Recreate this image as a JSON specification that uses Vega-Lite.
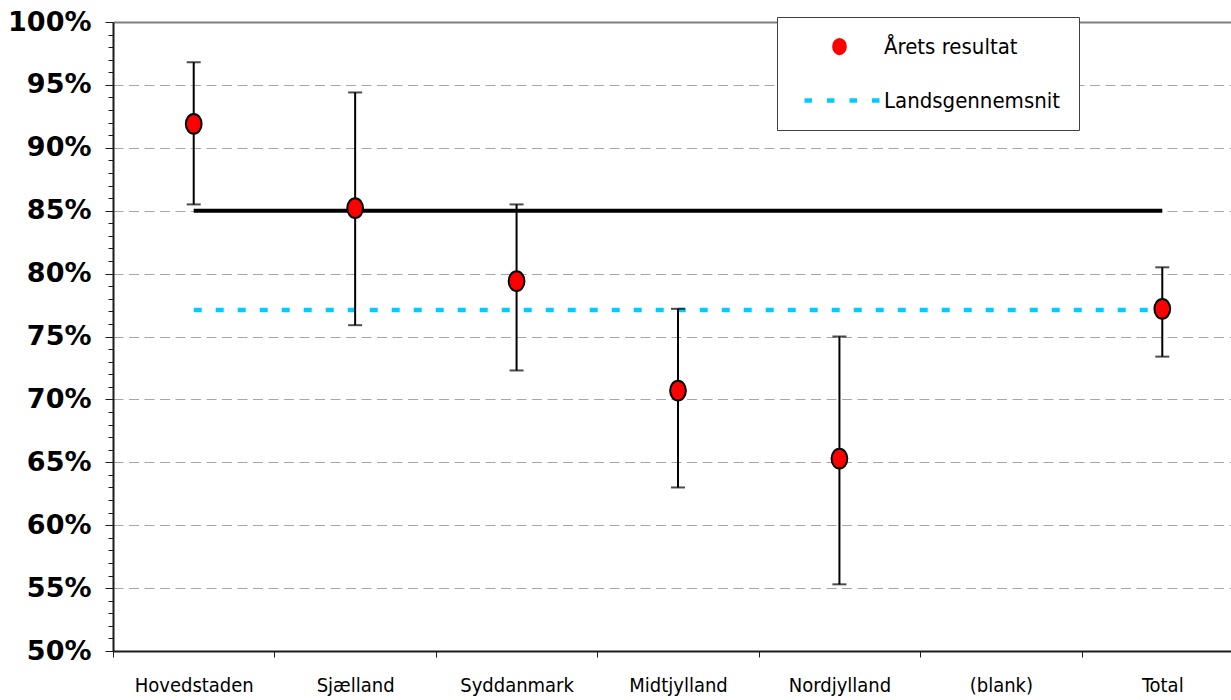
{
  "$schema": "https://vega.github.io/schema/vega-lite/v6.json",
  "width": 1118,
  "height": 629,
  "autosize": "none",
  "padding": {"left": 113, "top": 22, "right": 0, "bottom": 49},
  "background": "white",
  "view": {"stroke": null},
  "datasets": {
    "resultat": [
      {"region": "Hovedstaden", "serie": "Årets resultat", "andel": 91.9, "nedre": 85.5, "oevre": 96.8},
      {"region": "Sjælland", "serie": "Årets resultat", "andel": 85.2, "nedre": 75.9, "oevre": 94.4},
      {"region": "Syddanmark", "serie": "Årets resultat", "andel": 79.4, "nedre": 72.3, "oevre": 85.5},
      {"region": "Midtjylland", "serie": "Årets resultat", "andel": 70.7, "nedre": 63.0, "oevre": 77.2},
      {"region": "Nordjylland", "serie": "Årets resultat", "andel": 65.3, "nedre": 55.3, "oevre": 75.0},
      {"region": "Total", "serie": "Årets resultat", "andel": 77.2, "nedre": 73.4, "oevre": 80.5}
    ],
    "standard": [
      {"region": "Hovedstaden", "andel": 85},
      {"region": "Total", "andel": 85}
    ],
    "gennemsnit": [
      {"region": "Hovedstaden", "serie": "Landsgennemsnit", "andel": 77.1},
      {"region": "Total", "serie": "Landsgennemsnit", "andel": 77.1}
    ]
  },
  "encoding": {
    "x": {
      "field": "region",
      "type": "nominal",
      "sort": ["Hovedstaden", "Sjælland", "Syddanmark", "Midtjylland", "Nordjylland", "(blank)", "Total"],
      "scale": {
        "domain": ["Hovedstaden", "Sjælland", "Syddanmark", "Midtjylland", "Nordjylland", "(blank)", "Total"],
        "range": [0, 1130],
        "paddingInner": 0,
        "paddingOuter": 0
      },
      "axis": {
        "title": null,
        "labelAngle": 0,
        "tickBand": "extent",
        "domainColor": "#1a1a1a",
        "domainWidth": 2,
        "tickColor": "#1a1a1a",
        "tickWidth": 1,
        "tickSize": 6,
        "labelFont": "Liberation Sans Narrow, DejaVu Sans Condensed, sans-serif",
        "labelFontSize": 20,
        "labelColor": "black",
        "labelPadding": 18,
        "grid": false
      }
    },
    "y": {
      "type": "quantitative",
      "scale": {"domain": [50, 100], "nice": false, "zero": false},
      "axis": {
        "title": null,
        "values": [50, 51, 52, 53, 54, 55, 56, 57, 58, 59, 60, 61, 62, 63, 64, 65, 66, 67, 68, 69, 70, 71, 72, 73, 74, 75, 76, 77, 78, 79, 80, 81, 82, 83, 84, 85, 86, 87, 88, 89, 90, 91, 92, 93, 94, 95, 96, 97, 98, 99, 100],
        "labelExpr": "datum.value % 5 === 0 ? datum.value + '%' : ''",
        "labelOverlap": false,
        "labelFont": "DejaVu Sans",
        "labelFontWeight": "bold",
        "labelFontSize": 27,
        "labelColor": "black",
        "labelPadding": 14,
        "domainColor": "#1a1a1a",
        "domainWidth": 2,
        "tickColor": "#1a1a1a",
        "tickWidth": 1,
        "tickSize": {"condition": {"test": "datum.value % 5 === 0", "value": 8}, "value": 5},
        "grid": true,
        "gridColor": {"condition": {"test": "datum.value === 100", "value": "#808080"}, "value": "#a6a6a6"},
        "gridDash": {"condition": {"test": "datum.value === 100", "value": []}, "value": [10, 5.5]},
        "gridWidth": {"condition": {"test": "datum.value === 100", "value": 2}, "value": 1},
        "gridOpacity": {"condition": {"test": "datum.value % 5 === 0 && datum.value > 50", "value": 1}, "value": 0}
      }
    }
  },
  "layer": [
    {
      "data": {"name": "standard"},
      "mark": {"type": "line", "stroke": "black", "strokeWidth": 4},
      "encoding": {"y": {"field": "andel"}}
    },
    {
      "data": {"name": "gennemsnit"},
      "mark": {"type": "line", "strokeWidth": 4.5, "strokeDash": [8, 14]},
      "encoding": {
        "y": {"field": "andel"},
        "color": {
          "field": "serie",
          "type": "nominal",
          "scale": {"domain": ["Årets resultat", "Landsgennemsnit"], "range": ["#ff0000", "#00ccff"]},
          "legend": {
            "title": null,
            "orient": "none",
            "legendX": 664,
            "legendY": -5,
            "padding": 18.5,
            "rowPadding": 32,
            "symbolSize": 441,
            "labelOffset": 66.5,
            "labelLimit": 400,
            "labelFont": "Liberation Sans Narrow, DejaVu Sans Condensed, sans-serif",
            "labelFontSize": 22,
            "labelColor": "black",
            "strokeColor": "#404040",
            "fillColor": "white",
            "encode": {
              "symbols": {
                "update": {
                  "shape": {"signal": "datum.value === 'Årets resultat' ? 'M 2.513 0 A 0.63 0.75 0 1 0 3.773 0 A 0.63 0.75 0 1 0 2.513 0 Z' : 'M -0.19 0 H 0.524 M 1.952 0 H 2.666 M 4.095 0 H 4.809 M 6.238 0 H 6.952'"},
                  "fill": {"signal": "datum.value === 'Årets resultat' ? '#ff0000' : 'transparent'"},
                  "stroke": {"signal": "datum.value === 'Årets resultat' ? 'black' : '#00ccff'"},
                  "strokeWidth": {"signal": "datum.value === 'Årets resultat' ? 1.5 : 4.5"},
                  "strokeDash": {"value": []},
                  "opacity": {"value": 1}
                }
              }
            }
          }
        }
      }
    },
    {
      "data": {"name": "resultat"},
      "mark": {"type": "rule", "stroke": "black", "strokeWidth": 2},
      "encoding": {"y": {"field": "nedre"}, "y2": {"field": "oevre"}}
    },
    {
      "data": {"name": "resultat"},
      "mark": {"type": "tick", "color": "black", "size": 14, "thickness": 2},
      "encoding": {"y": {"field": "nedre"}}
    },
    {
      "data": {"name": "resultat"},
      "mark": {"type": "tick", "color": "black", "size": 14, "thickness": 2},
      "encoding": {"y": {"field": "oevre"}}
    },
    {
      "data": {"name": "resultat"},
      "mark": {
        "type": "point",
        "filled": true,
        "opacity": 1,
        "size": 441,
        "shape": "M -0.75 0 A 0.75 0.94 0 1 0 0.75 0 A 0.75 0.94 0 1 0 -0.75 0 Z",
        "stroke": "black",
        "strokeWidth": 2
      },
      "encoding": {
        "y": {"field": "andel"},
        "color": {"field": "serie", "type": "nominal"}
      }
    }
  ]
}
